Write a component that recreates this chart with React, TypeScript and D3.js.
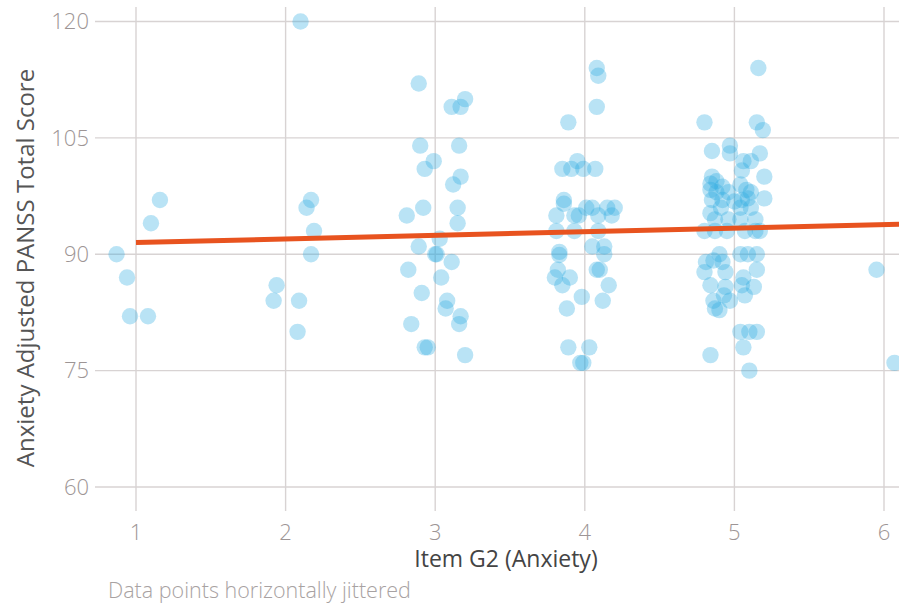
import { useRef, useEffect } from "react";
import * as d3 from "d3";

// anxiety item score (jittered) and adjusted PANSS total
const anxietyJittered = [
  0.87, 0.94, 0.96, 1.08, 1.1, 1.16,
  1.94, 1.92, 2.09, 2.08, 2.17, 2.14, 2.19, 2.17, 2.1,
  2.89, 3.2, 3.11, 3.17, 2.9, 3.16, 2.99, 2.93, 3.17, 3.12, 2.92, 2.81, 3.15, 3.15,
  3.03, 2.89, 3.0, 3.01, 2.82, 3.11, 3.04, 2.91, 3.08, 3.07, 3.17, 3.16, 2.84, 2.93, 2.95, 3.2,
  4.08, 4.09, 4.08, 3.89, 3.85, 3.91, 3.99, 4.07, 3.95, 3.86, 3.86, 4.01, 4.05, 4.15, 4.2,
  3.81, 3.93, 3.96, 4.09, 4.18, 3.81, 3.93, 4.09, 4.05, 4.13, 3.83, 3.83, 4.13,
  3.82, 4.08, 4.1, 3.8, 3.9, 3.85, 4.16, 3.98, 4.12, 3.88, 3.89, 4.03, 3.97, 3.99,
  5.16, 4.8, 5.15, 5.19, 4.97, 4.85, 4.97, 5.17, 5.06, 5.11, 5.05, 5.2, 4.85,
  4.84, 4.88, 5.04, 4.92, 4.84, 4.88, 4.96, 5.08, 5.11, 5.2, 4.85, 4.92, 5.0, 5.05, 5.09,
  4.91, 5.04, 5.11, 4.84, 4.96, 5.14, 5.04, 4.87, 4.8, 4.87, 4.95, 5.07, 5.14, 5.17,
  4.9, 5.04, 5.09, 5.15, 4.81, 4.86, 4.92, 4.8, 4.94, 5.15, 5.06, 4.84, 4.94, 5.05, 5.13,
  5.07, 4.93, 4.86, 4.97, 4.87, 4.9, 5.04, 5.1, 5.15, 5.06, 4.84, 5.1,
  5.95, 6.07
];
const panssTotal = [
  90, 87, 82, 82, 94, 97,
  86, 84, 84, 80, 97, 96, 93, 90, 120,
  112, 110, 109, 109, 104, 104, 102, 101, 100, 99, 96, 95, 96, 94,
  92, 91, 90, 90, 88, 89, 87, 85, 84, 83, 82, 81, 81, 78, 78, 77,
  114, 113, 109, 107, 101, 101, 101, 101, 102, 97, 96.5, 96, 96, 96, 96,
  95, 95, 95, 95, 95, 93, 93, 93, 91, 91, 90.3, 89.9, 90,
  88, 88, 88, 87, 87, 86, 86, 84.5, 84, 83, 78, 78, 76, 76,
  114, 107, 107, 106, 104, 103.3, 103, 103, 102, 102, 100.8, 100, 100,
  99.1, 99.4, 99, 98.7, 98.3, 98, 98, 98.3, 98, 97.2, 97, 97, 96.8, 97, 97.2,
  96, 96, 96, 95.3, 94.5, 94.5, 94.5, 94.5, 93, 93, 93, 93, 93, 93,
  90, 90, 90, 90, 89, 89.2, 89, 87.7, 87.7, 88, 87, 86, 85.8, 86, 85.8,
  84.7, 84.7, 84, 84, 83, 82.8, 80, 80, 80, 78, 77, 75,
  88, 76
];
const fitX = [1, 6.15];
const fitY = [91.5, 93.9];
const xTicks = [1, 2, 3, 4, 5, 6];
const yTicks = [60, 75, 90, 105, 120];

export default function App() {
  const ref = useRef<SVGSVGElement>(null);

  useEffect(() => {
    const svg = d3.select(ref.current);
    svg.selectAll("*").remove();

    const width = 899;
    const height = 603;
    const font = "'Open Sans', sans-serif";

    const x = d3.scaleLinear().domain([1, 6]).range([136, 884]);
    const y = d3.scaleLinear().domain([60, 120]).range([487, 21.5]);

    svg.attr("width", width).attr("height", height);

    svg.append("rect")
      .attr("width", width)
      .attr("height", height)
      .attr("fill", "#fff");

    // grid
    svg.append("g")
      .selectAll("line")
      .data(yTicks)
      .enter()
      .append("line")
      .attr("x1", 95)
      .attr("x2", width)
      .attr("y1", d => y(d))
      .attr("y2", d => y(d))
      .attr("stroke", "#d8d3d3")
      .attr("stroke-width", 1.4);

    svg.append("g")
      .selectAll("line")
      .data(xTicks)
      .enter()
      .append("line")
      .attr("x1", d => x(d))
      .attr("x2", d => x(d))
      .attr("y1", 7)
      .attr("y2", 511)
      .attr("stroke", "#d8d3d3")
      .attr("stroke-width", 1.4);

    // tick labels
    svg.append("g")
      .selectAll("text")
      .data(yTicks)
      .enter()
      .append("text")
      .attr("x", 89)
      .attr("y", d => y(d))
      .attr("dy", "0.35em")
      .attr("text-anchor", "end")
      .attr("font-family", font)
      .attr("font-weight", 300)
      .attr("font-size", "22px")
      .attr("fill", "#9d9595")
      .text(d => d);

    svg.append("g")
      .selectAll("text")
      .data(xTicks)
      .enter()
      .append("text")
      .attr("x", d => x(d))
      .attr("y", 540)
      .attr("text-anchor", "middle")
      .attr("font-family", font)
      .attr("font-weight", 300)
      .attr("font-size", "22px")
      .attr("fill", "#9d9595")
      .text(d => d);

    // points
    const points = anxietyJittered.map((a, i) => ({ a, p: panssTotal[i] }));
    svg.append("g")
      .selectAll("circle")
      .data(points)
      .enter()
      .append("circle")
      .attr("cx", d => x(d.a))
      .attr("cy", d => y(d.p))
      .attr("r", 8.2)
      .attr("fill", "#29abe2")
      .attr("fill-opacity", 0.33);

    // fitted line
    const line = d3.line<number>()
      .x(d => x(d))
      .y((_, i) => y(fitY[i]));
    svg.append("path")
      .datum(fitX)
      .attr("d", line)
      .attr("fill", "none")
      .attr("stroke", "#e8531f")
      .attr("stroke-width", 5);

    // titles
    svg.append("text")
      .attr("text-anchor", "middle")
      .attr("transform", "translate(34,268) rotate(-90)")
      .attr("font-family", font)
      .attr("font-size", "24px")
      .attr("fill", "#555")
      .text("Anxiety Adjusted PANSS Total Score");

    svg.append("text")
      .attr("x", 506)
      .attr("y", 567)
      .attr("text-anchor", "middle")
      .attr("font-family", font)
      .attr("font-size", "23px")
      .attr("fill", "#444")
      .text("Item G2 (Anxiety)");

    svg.append("text")
      .attr("x", 108)
      .attr("y", 598)
      .attr("font-family", font)
      .attr("font-weight", 300)
      .attr("font-size", "21.5px")
      .attr("fill", "#a8a2a2")
      .text("Data points horizontally jittered");
  }, []);

  return (
    <svg
      ref={ref}
      style={{ position: "absolute", left: 0, top: 0, display: "block" }}
    ></svg>
  );
}
